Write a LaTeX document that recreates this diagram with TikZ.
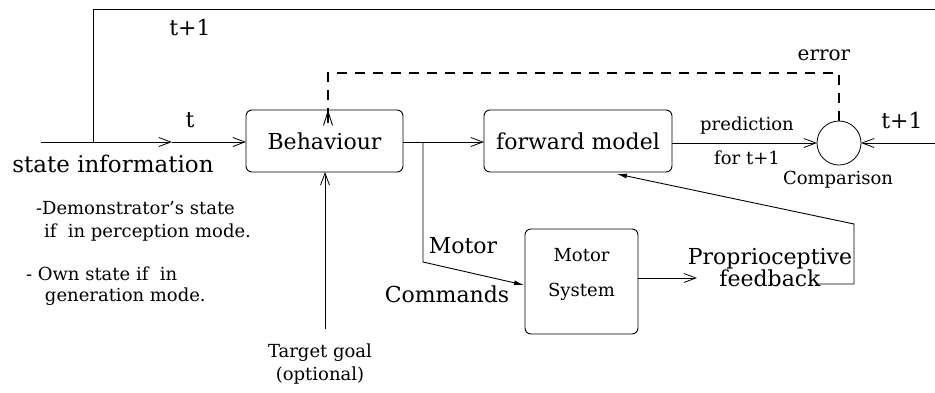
\documentclass[tikz,border=0pt]{standalone}
\usepackage{fontspec}
\setmainfont{DejaVu Serif}
\usetikzlibrary{arrows.meta}
\newcommand{\bigtxt}{\rmfamily\fontsize{22}{25}\selectfont}
\newcommand{\smalltxt}{\rmfamily\fontsize{18}{21}\selectfont}
\begin{document}
\begin{tikzpicture}[x=1pt,y=-1pt,
  line width=0.9pt,
  every node/.style={inner sep=0pt,outer sep=0pt},
  box/.style={draw,rounded corners=6pt,line width=0.9pt},
  bigtext/.style={font=\bigtxt},
  smalltext/.style={font=\smalltxt},
  openarrow/.style={-{Straight Barb[length=12pt,width=9pt,line width=0.8pt]}},
  filledarrow/.style={-{Latex[length=10pt,width=5pt]}},
  errline/.style={dash pattern=on 10pt off 8pt,line width=1.6pt}]
\useasboundingbox (0,0) rectangle (935,392);
% boxes
\node[box,minimum width=157pt,minimum height=62pt,font=\bigtxt] (beh) at (324.5,141) {Behaviour};
\node[box,minimum width=188pt,minimum height=62pt,font=\bigtxt] (fwd) at (578,141) {forward model};
\node[box,minimum width=113pt,minimum height=105pt,
  label={[font=\smalltxt,align=center,yshift=7pt]center:Motor\\[14pt]System}] (mot) at (581.5,281.5) {};
\node[draw,circle,minimum size=44pt,line width=0.8pt] (cmp) at (839,143) {};
% coordinates
\coordinate (in) at (41,142);
\coordinate (split) at (93,142);
\coordinate (mid) at (172,142);
\coordinate (topl) at (93,9);
\coordinate (topr) at (935,9);
\coordinate (br) at (423,142);
\coordinate (brd) at (423,262);
\coordinate (motin) at (524,285);
\coordinate (propin) at (697,278);
\coordinate (fbs) at (817,284);
\coordinate (fbc) at (854,284);
\coordinate (fbu) at (854,224);
\coordinate (fwdin) at (617,174);
\coordinate (rin) at (935,143);
\coordinate (e1) at (839,73);
\coordinate (e2) at (328,73);
\coordinate (goal) at (325,329);
% labels
\node[bigtext] (lt) at (190,120) {t};
\node[bigtext] (ltop) at (190,27) {t+1};
\node[font=\rmfamily\fontsize{23}{26}\selectfont] (lstate) at (113,164) {state information};
\node[font=\rmfamily\fontsize{20}{24}\selectfont] (lerr) at (824,55) {error};
\node[smalltext] (lpred) at (747,126) {prediction};
\node[smalltext] (lfor) at (747,158) {for t+1};
\node[smalltext] (lcmp) at (838,180) {Comparison};
\node[bigtext] (lright) at (902,120) {t+1};
\node[bigtext] (lmot) at (463,246) {Motor};
\node[bigtext] (lcom) at (447,294) {Commands};
\node[bigtext,align=center] (prop) at (770,268) {Proprioceptive\\[-3pt]feedback};
\node[smalltext,align=center] (goaltxt) at (320,364) {Target goal\\[2pt](optional)};
\node[smalltext,anchor=west] (d1) at (36,208) {-Demonstrator's state};
\node[smalltext,anchor=west] (d2) at (44,233) {if\ \ in perception mode.};
\node[smalltext,anchor=west] (d3) at (26,274) {- Own state if\ \ in};
\node[smalltext,anchor=west] (d4) at (45,297) {generation mode.};
% connectors
\draw[openarrow] (in) -- (mid);
\draw[openarrow] (mid) -- (beh.west |- mid);
\draw (split) -- (topl) -- (topr);
\draw[openarrow] (beh.east |- br) -- (fwd.west |- br);
\draw[filledarrow] (br) -- (brd) -- (motin);
\draw[openarrow] (mot.east |- propin) -- (propin);
\draw[filledarrow] (fbs) -- (fbc) -- (fbu) -- (fwdin);
\draw[openarrow] (fwd.east |- cmp) -- (cmp.west);
\draw[openarrow] (rin) -- (cmp.east);
\draw[errline] (cmp.north) -- (e1) -- (e2) -- ([yshift=-12pt]e2 |- beh.north);
\draw[-{Straight Barb[length=14pt,width=9pt,line width=0.9pt]},line width=1.6pt] ([yshift=-13pt]e2 |- beh.north) -- (e2 |- beh.north);
\draw[openarrow] (goal) -- (beh.south -| goal);
\end{tikzpicture}
\end{document}
